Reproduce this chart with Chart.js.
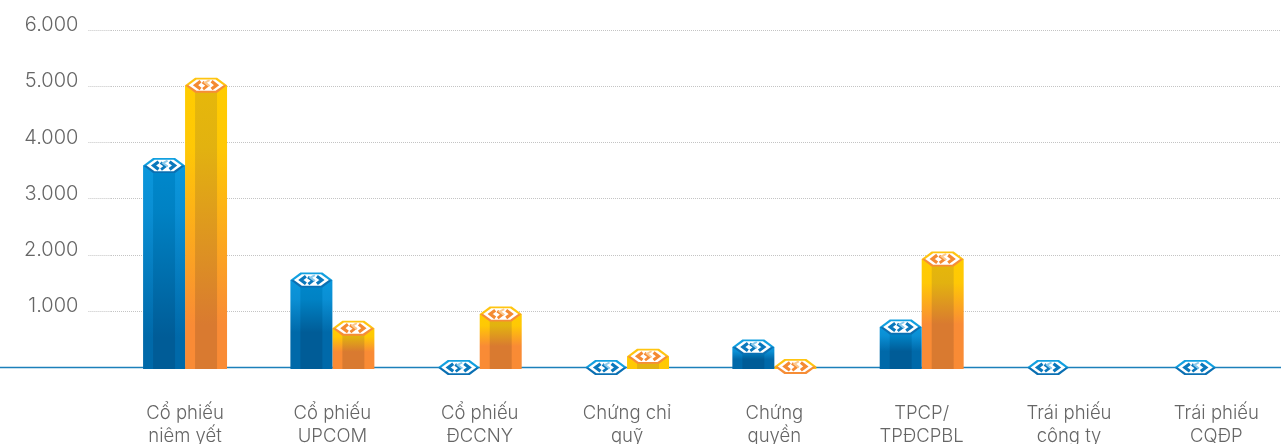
<!DOCTYPE html>
<html>
<head>
<meta charset="utf-8">
<style>
html,body{margin:0;padding:0;background:#fff;overflow:hidden;width:1281px;height:444px}
#wrap{width:1281px;height:444px;overflow:hidden;position:relative}
#wrap div{position:absolute;left:0;top:0;width:1300px;height:444px}
</style>
<script src="https://cdn.jsdelivr.net/npm/chart.js@4/dist/chart.umd.min.js"></script>
</head>
<body>
<div id="wrap"><div><canvas id="c" width="1300" height="444"></canvas></div></div>
<script>
const categories = [
  ["Cổ phiếu","niêm yết"],["Cổ phiếu","UPCOM"],["Cổ phiếu","ĐCCNY"],["Chứng chỉ","quỹ"],
  ["Chứng","quyền"],["TPCP/","TPĐCPBL"],["Trái phiếu","công ty"],["Trái phiếu","CQĐP"]
];
const seriesBlue = [3590, 1555, 0, 0, 365, 720, 0, 0];
const seriesOrange = [5020, 700, 950, 200, 20, 1930, null, null];
const yTicks = [0, 1000, 2000, 3000, 4000, 5000, 6000];
const yTickLabels = ["", "1.000", "2.000", "3.000", "4.000", "5.000", "6.000"];

const palette = {
  blue:{side:["#0a97dc","#0a8fd4","#0069a9"],mid:["#0088cc","#0082c4","#005c97"],rimT:"#12a0e0",rimB:"#0a6fb2",ink:"#0a78bc",soft:"#8ccbec"},
  orange:{side:["#ffcc00","#ffc805","#f98b35"],mid:["#e6b80a","#e2b210","#d97a30"],rimT:"#ffc511",rimB:"#f68d36",ink:"#f48a32",soft:"#fcc98f"}
};
const SKEW = 10, HALF = 7.5;

function grad(ctx, top, bottom, c){
  const g = ctx.createLinearGradient(0, top, 0, bottom);
  const h = bottom - top;
  if (h < 20) { g.addColorStop(0, c[0]); g.addColorStop(1, c[1]); return g; }
  g.addColorStop(0, c[0]); g.addColorStop(0.22, c[1]); g.addColorStop(h < 130 ? 0.6 : 0.85, c[2]); g.addColorStop(1, c[2]);
  return g;
}
function barFill(pal){
  return (context) => {
    const chart = context.chart;
    if (!chart.chartArea || context.parsed == null || context.parsed.y == null) return pal.side[0];
    const y = chart.scales.y;
    return grad(chart.ctx, y.getPixelForValue(context.parsed.y), y.getPixelForValue(0), pal.side);
  };
}
function hexPath(ctx, x, y, hw, hh, sk){
  ctx.beginPath();
  ctx.moveTo(x-hw, y); ctx.lineTo(x-hw+sk, y-hh); ctx.lineTo(x+hw-sk, y-hh);
  ctx.lineTo(x+hw, y); ctx.lineTo(x+hw-sk, y+hh); ctx.lineTo(x-hw+sk, y+hh);
  ctx.closePath();
}
function drawCap(ctx, x, y, hw, pal){
  const g = ctx.createLinearGradient(0, y-HALF, 0, y+HALF);
  g.addColorStop(0, pal.rimT); g.addColorStop(0.45, pal.rimT); g.addColorStop(0.55, pal.rimB); g.addColorStop(1, pal.rimB);
  ctx.fillStyle = g;
  hexPath(ctx, x, y, hw, HALF, SKEW); ctx.fill();
  ctx.fillStyle = "#ffffff";
  hexPath(ctx, x, y, hw-3.5, HALF-1.8, SKEW-2); ctx.fill();
  ctx.lineCap = "butt"; ctx.lineJoin = "miter";
  ctx.strokeStyle = pal.ink; ctx.lineWidth = 3.2;
  ctx.beginPath(); ctx.moveTo(x-5.5, y-3.8); ctx.lineTo(x-10.5, y); ctx.lineTo(x-5.5, y+3.8); ctx.stroke();
  ctx.beginPath(); ctx.moveTo(x+5.5, y-3.8); ctx.lineTo(x+10.5, y); ctx.lineTo(x+5.5, y+3.8); ctx.stroke();
  ctx.lineWidth = 2.8;
  ctx.beginPath(); ctx.moveTo(x-3.5, y-3); ctx.lineTo(x+1.5, y+0.5); ctx.lineTo(x-3, y+4); ctx.stroke();
  ctx.strokeStyle = pal.soft; ctx.lineWidth = 2;
  ctx.beginPath(); ctx.moveTo(x+3.5, y-5); ctx.lineTo(x-1, y-2.5); ctx.lineTo(x+3.5, y+1); ctx.stroke();
}

const facetPlugin = {
  id: "facets",
  beforeDatasetsDraw(chart){
    const ctx = chart.ctx, y0 = chart.scales.y.getPixelForValue(0);
    ctx.save();
    ctx.strokeStyle = "#1c80ba"; ctx.lineWidth = 1.5;
    ctx.beginPath(); ctx.moveTo(0, y0); ctx.lineTo(chart.width, y0); ctx.stroke();
    ctx.restore();
  },
  afterDatasetsDraw(chart){
    const ctx = chart.ctx, yS = chart.scales.y, y0 = yS.getPixelForValue(0);
    ctx.save();
    [palette.blue, palette.orange].forEach((pal, di) => {
      chart.getDatasetMeta(di).data.forEach((el, i) => {
        const v = chart.data.datasets[di].data[i];
        if (v == null) return;
        const x = el.x, top = yS.getPixelForValue(v), hw = el.width / 2;
        if (v > 100) {
          ctx.fillStyle = grad(ctx, top, y0, pal.mid);
          ctx.fillRect(x - hw + SKEW, top, 2 * (hw - SKEW), y0 + 1.5 - top);
        }
        drawCap(ctx, x, top, hw, pal);
      });
    });
    ctx.restore();
  }
};

new Chart(document.getElementById("c"), {
  type: "bar",
  plugins: [facetPlugin],
  data: {
    labels: categories,
    datasets: [
      {label:"A", data: seriesBlue, backgroundColor: barFill(palette.blue), base:-28, clip:false, borderWidth:0},
      {label:"B", data: seriesOrange, backgroundColor: barFill(palette.orange), base:-28, clip:false, borderWidth:0}
    ]
  },
  options: {
    responsive: false,
    animation: false,
    events: [],
    categoryPercentage: 0.57,
    barPercentage: 1,
    layout: {padding: {top: 30, right: 10, left: 0, bottom: 0}},
    plugins: {legend: {display: false}, tooltip: {enabled: false}, title: {display: false}},
    scales: {
      x: {
        afterFit(s){ s.height = 76.5; },
        grid: {display: false, drawTicks: false},
        border: {display: false},
        ticks: {
          autoSkip: false, maxRotation: 0, minRotation: 0, padding: 34, color: "#666666",
          font: {family: "Inter", size: 18.5, weight: 300, lineHeight: "23px"}
        }
      },
      y: {
        min: 0, max: 6000,
        afterFit(s){ s.width = 111.4; },
        afterBuildTicks(s){ s.ticks = yTicks.map(v => ({value: v})); },
        grid: {
          color: c => c.tick && c.tick.value === 0 ? "rgba(0,0,0,0)" : "#c4c4c4",
          tickColor: c => c.tick && c.tick.value === 0 ? "rgba(0,0,0,0)" : "#c4c4c4",
          lineWidth: 1, tickLength: 23, tickWidth: 1,
          tickBorderDash: [1, 1]
        },
        border: {display: false, dash: [1, 1]},
        ticks: {
          color: "#666666", padding: 10,
          font: {family: "Inter", size: 20, weight: 300, lineHeight: "10px"},
          callback: (v) => { const k = yTicks.indexOf(v); return [yTickLabels[k], ""]; }
        }
      }
    }
  }
});
</script>
</body>
</html>
